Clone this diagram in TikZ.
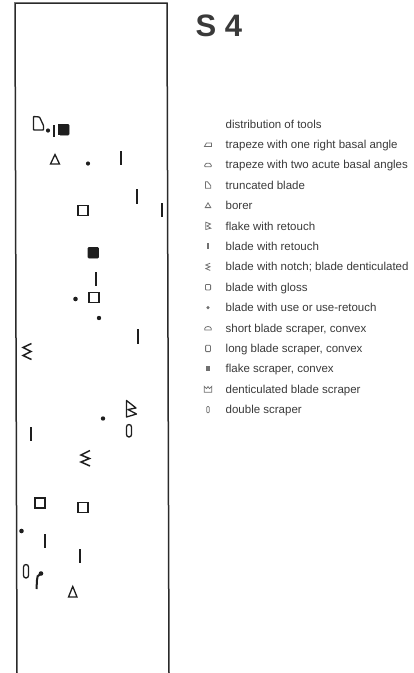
\documentclass[tikz,border=0pt]{standalone}
\usepackage{fontspec}
\setmainfont{Liberation Sans}
\definecolor{ink}{HTML}{1E1E1E}
\definecolor{frame}{HTML}{2A2A2A}
\definecolor{legink}{HTML}{3A3A3A}
\definecolor{legsym}{HTML}{707070}
\tikzset{
  bar/.style={draw=ink, line width=2.3pt, line cap=butt},
  osq/.style={draw=ink, line width=1.3pt},
  fsq/.style={fill=ink, draw=ink, line width=0.6pt, rounded corners=0.8pt},
  tdot/.style={fill=ink},
  tri/.style={draw=ink, line width=1.3pt, line join=miter},
  zig/.style={draw=ink, line width=1.5pt, line join=miter},
  leg/.style={anchor=base west, inner sep=0pt, text=legink, font=\fontsize{11.5}{13}\selectfont},
  lsym/.style={draw=legsym, line width=0.8pt},
  lfill/.style={fill=legsym},
}
\begin{document}
\begin{tikzpicture}[x=1pt,y=-1pt]
\useasboundingbox (0,0) rectangle (413,673);
% frame (open at the bottom)
\coordinate (bl) at (17,673);
\coordinate (tl) at (15,3);
\coordinate (tr) at (167,3);
\coordinate (br) at (169,673);
\draw[frame, line width=1.5pt] (bl) -- (tl) -- (tr) -- (br);

% title
\node[anchor=base west, inner sep=0pt, text=legink, font=\fontsize{31}{31}\selectfont\bfseries] (title) at (195.5,36) {S 4};

% ---------- symbols in the section ----------
% truncated blade
\draw[osq, rounded corners=0.6pt] (33.5,130) -- (33.5,116.5) -- (39.5,117) -- (43.5,125.5) -- (43.5,130) -- cycle;
\fill[tdot] (48,130.5) circle (2.1);
\draw[bar, line width=1.8pt] (54,125) -- (54,137);
\fill[ink] (57.5,124) rectangle (59.5,135);
\draw[fsq] (59.5,124.5) rectangle (69,135);
% borer
\draw[tri] (50.5,164) -- (59.5,164) -- (55,154.5) -- cycle;
\fill[tdot] (88,163.5) circle (2.1);
\draw[bar] (121,151) -- (121,165);
\draw[bar] (137,189) -- (137,204);
\draw[bar] (162,203) -- (162,217);
\draw[osq] (78,205.5) rectangle (88,215.5);
\draw[fsq] (88,247.5) rectangle (98.5,258);
\draw[bar] (96,272) -- (96,286);
\fill[tdot] (75.5,299) circle (2.3);
\draw[osq] (89,292.5) rectangle (99,302.5);
\fill[tdot] (99,318) circle (2.2);
\draw[bar] (138,329) -- (138,344);
% notch
\draw[zig] (31.5,343.5) -- (23,347.5) -- (31,351.5) -- (23,355.5) -- (31.5,359.5);
% flake with retouch
\draw[osq, line join=round] (126.5,400.5) -- (126.5,417) -- (136.5,414) -- (128,409.5) -- (136,408) -- cycle;
\fill[tdot] (103,418.5) circle (2.2);
% double scraper
\draw[osq, rounded corners=2.5pt] (126.5,424.5) rectangle (131.5,437);
\draw[bar] (31,427) -- (31,441);
\draw[zig] (90,450.5) -- (81,455) -- (89.5,458.5) -- (81,462) -- (90,466);
\draw[osq] (35,498) rectangle (45,508);
\draw[osq] (78,502.5) rectangle (88,512.5);
\fill[tdot] (21.5,531) circle (2.3);
\draw[bar] (45,534) -- (45,548);
\draw[bar] (80,549) -- (80,563);
\draw[osq, rounded corners=2.5pt] (23.5,564.5) rectangle (28.5,578);
\fill[tdot] (41,573.5) circle (2.3);
\draw[ink, line width=2pt] (40.5,574) .. controls (37.5,575) and (37,577) .. (37,580) -- (36.5,589);
\draw[tri] (68.5,597) -- (77,597) -- (72.75,586.5) -- cycle;

% ---------- legend ----------
\node[leg] (l0) at (225.5,128) {distribution of tools};
\node[leg] (l1) at (225.5,148.4) {trapeze with one right basal angle};
\node[leg] (l2) at (225.5,168.8) {trapeze with two acute basal angles};
\node[leg] (l3) at (225.5,189.2) {truncated blade};
\node[leg] (l4) at (225.5,209.6) {borer};
\node[leg] (l5) at (225.5,230) {flake with retouch};
\node[leg] (l6) at (225.5,250.4) {blade with retouch};
\node[leg] (l7) at (225.5,270.8) {blade with notch; blade denticulated};
\node[leg] (l8) at (225.5,291.2) {blade with gloss};
\node[leg] (l9) at (225.5,311.6) {blade with use or use-retouch};
\node[leg] (l10) at (225.5,332) {short blade scraper, convex};
\node[leg] (l11) at (225.5,352.4) {long blade scraper, convex};
\node[leg] (l12) at (225.5,372.8) {flake scraper, convex};
\node[leg] (l13) at (225.5,393.2) {denticulated blade scraper};
\node[leg] (l14) at (225.5,413.6) {double scraper};

% legend symbols (centre x = 208)
\begin{scope}[shift={(208,144.4)}]
  \draw[lsym] (-3.5,2) -- (3.5,2) -- (3.5,-1.5) -- (-1.5,-1.5) -- cycle;
\end{scope}
\begin{scope}[shift={(208,164.8)}]
  \draw[lsym, rounded corners=1pt] (-3.8,2) -- (3.8,2) -- (2.2,-1.6) -- (-2.2,-1.6) -- cycle;
\end{scope}
\begin{scope}[shift={(208,185.2)}]
  \draw[lsym] (-2.5,3) -- (-2.5,-3.5) -- (-0.5,-3.5) -- (2.8,0.5) -- (2.8,3) -- cycle;
\end{scope}
\begin{scope}[shift={(208,205.6)}]
  \draw[lsym] (-2.8,2) -- (2.8,2) -- (0,-2.8) -- cycle;
\end{scope}
\begin{scope}[shift={(208,226)}]
  \draw[lsym] (-2.2,-3.8) -- (-2.2,3.5) -- (2.8,2.2) -- (-1,0) -- (2.5,-2) -- cycle;
\end{scope}
\begin{scope}[shift={(208,246.4)}]
  \draw[legsym, line width=1.2pt] (0,-3) -- (0,3);
\end{scope}
\begin{scope}[shift={(208,266.8)}]
  \draw[lsym] (2.2,-3.6) -- (-2.2,-1.8) -- (2,0) -- (-2.2,1.8) -- (2.2,3.6);
\end{scope}
\begin{scope}[shift={(208,287.2)}]
  \draw[lsym, rounded corners=0.8pt] (-2.6,-2.8) rectangle (2.6,2.8);
\end{scope}
\begin{scope}[shift={(208,307.6)}]
  \fill[lfill] (0,0) circle (1.7);
\end{scope}
\begin{scope}[shift={(208,328)}]
  \draw[lsym] (-3.3,2) -- (3.3,2) -- (3.3,0.5) .. controls (2.5,-2.2) and (-2.5,-2.2) .. (-3.3,0.5) -- cycle;
\end{scope}
\begin{scope}[shift={(208,348.4)}]
  \draw[lsym, rounded corners=0.8pt] (-2.4,-3.2) rectangle (2.4,3.2);
\end{scope}
\begin{scope}[shift={(208,368.8)}]
  \fill[lfill] (-2.4,-2.4) rectangle (2.4,2.4);
\end{scope}
\begin{scope}[shift={(208,389.2)}]
  \draw[lsym] (-3.8,-2.8) -- (-3.8,3) -- (3.8,3) -- (3.8,-2.8) -- (1.5,-0.6) -- (0,-2.6) -- (-1.5,-0.6) -- cycle;
\end{scope}
\begin{scope}[shift={(208,409.6)}]
  \draw[lsym, rounded corners=1pt] (-1.3,-3.2) rectangle (1.3,3.2);
\end{scope}
\end{tikzpicture}
\end{document}
